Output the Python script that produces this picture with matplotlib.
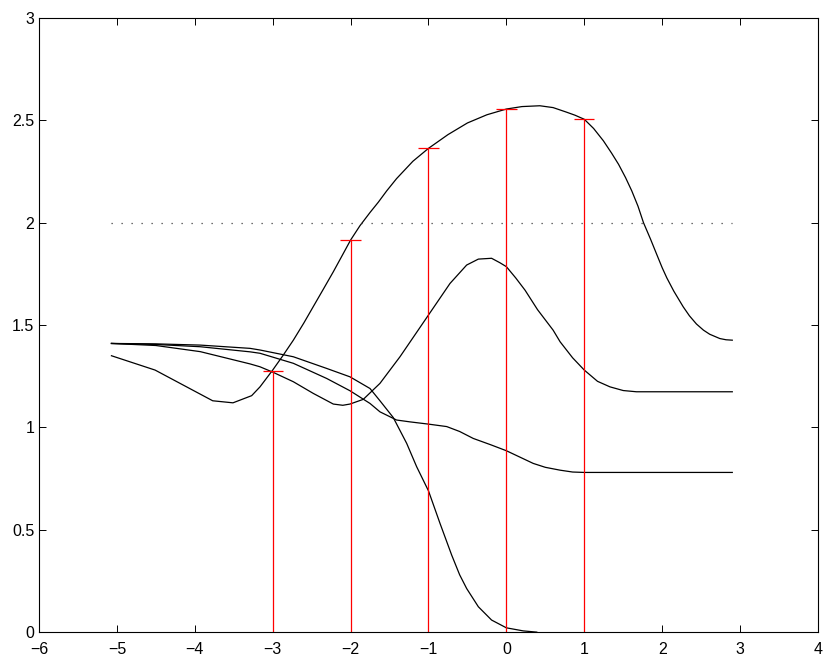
import matplotlib
matplotlib.use("Agg")
import matplotlib.pyplot as plt

plt.rcParams['font.family'] = ['Liberation Sans', 'DejaVu Sans']

# Curve A (large hump)
xa = [-5.07, -4.51, -3.77, -3.51, -3.27, -3.163, -3.0, -2.87, -2.735, -2.6, -2.479, -2.35,
      -2.222, -2.1, -2.0, -1.88, -1.75, -1.644, -1.537, -1.41, -1.2, -1.0, -0.75, -0.5, -0.25,
      0.0, 0.2, 0.43, 0.6, 0.77, 0.88, 1.0, 1.12, 1.245, 1.35, 1.44, 1.53, 1.61, 1.69, 1.76,
      1.85, 1.93, 2.0, 2.06, 2.15, 2.27, 2.35, 2.44, 2.53, 2.61, 2.74, 2.82, 2.9]
ya = [1.35, 1.28, 1.13, 1.12, 1.155, 1.198, 1.28, 1.35, 1.426, 1.51, 1.59, 1.675,
      1.76, 1.845, 1.915, 1.985, 2.05, 2.10, 2.155, 2.215, 2.30, 2.363, 2.43, 2.487, 2.527,
      2.555, 2.567, 2.571, 2.562, 2.54, 2.525, 2.505, 2.46, 2.40, 2.34, 2.285, 2.22, 2.155,
      2.08, 2.0, 1.92, 1.845, 1.78, 1.73, 1.665, 1.589, 1.545, 1.505, 1.475, 1.455, 1.434,
      1.428, 1.426]

# Curve B (peak near -0.2)
xb = [-5.07, -4.5, -3.93, -3.29, -3.163, -3.0, -2.735, -2.479, -2.222, -2.1, -2.008, -1.837,
      -1.623, -1.366, -1.0, -0.724, -0.51, -0.36, -0.19, -0.082, 0.0, 0.12, 0.24, 0.4, 0.6,
      0.69, 0.85, 1.0, 1.17, 1.33, 1.5, 1.67, 2.0, 2.5, 2.9]
yb = [1.41, 1.40, 1.37, 1.31, 1.296, 1.27, 1.223, 1.166, 1.114, 1.108, 1.114, 1.137,
      1.215, 1.345, 1.549, 1.703, 1.793, 1.822, 1.826, 1.804, 1.785, 1.73, 1.67, 1.575, 1.475,
      1.418, 1.34, 1.28, 1.225, 1.198, 1.18, 1.174, 1.174, 1.174, 1.174]

# Curve C (settles near 0.78)
xc = [-5.07, -4.5, -3.93, -3.29, -3.163, -2.735, -2.307, -2.008, -1.751, -1.623, -1.452,
      -1.41, -1.238, -1.0, -0.766, -0.6, -0.425, -0.2, 0.0, 0.345, 0.5, 0.69, 0.85, 1.0,
      1.5, 2.0, 2.5, 2.9]
yc = [1.41, 1.405, 1.394, 1.369, 1.362, 1.313, 1.239, 1.179, 1.117, 1.076, 1.044,
      1.036, 1.027, 1.016, 1.004, 0.98, 0.946, 0.915, 0.886, 0.824, 0.805, 0.791, 0.782, 0.78,
      0.78, 0.78, 0.78, 0.78]

# Curve D (drops to 0)
xd = [-5.07, -4.5, -3.93, -3.29, -3.163, -2.735, -2.307, -2.008, -1.751, -1.623, -1.452,
      -1.28, -1.152, -1.0, -0.852, -0.702, -0.6, -0.51, -0.36, -0.19, 0.0, 0.217, 0.39]
yd = [1.41, 1.408, 1.402, 1.386, 1.378, 1.345, 1.288, 1.247, 1.19, 1.13, 1.048,
      0.922, 0.808, 0.69, 0.531, 0.376, 0.28, 0.213, 0.124, 0.059, 0.021, 0.006, 0.0]

# Stems
stem_x = [-3, -2, -1, 0, 1]
stem_y = [1.275, 1.915, 2.363, 2.555, 2.505]

# Reference level
ref_level = 2.0
ref_x = [-5.07, 2.9]

fig = plt.figure(figsize=(8.3, 6.64), dpi=100)
ax = fig.add_axes([0.047, 0.048, 0.9385, 0.925])

for xs, ys in [(xa, ya), (xb, yb), (xc, yc), (xd, yd)]:
    ax.plot(xs, ys, color='black', lw=0.9, solid_joinstyle='round')

ax.plot(ref_x, [ref_level, ref_level], color='0.25', lw=0.9, linestyle=(0, (1, 7)))

ax.vlines(stem_x, 0, stem_y, colors='red', lw=0.9)
cap = 0.13
ax.hlines(stem_y, [s - cap for s in stem_x], [s + cap for s in stem_x], colors='red', lw=0.9)

ax.set_xlim(-6, 4)
ax.set_ylim(0, 3)
ax.set_xticks(range(-6, 5))
ax.set_yticks([0, 0.5, 1, 1.5, 2, 2.5, 3])
ax.set_yticklabels(['0', '0.5', '1', '1.5', '2', '2.5', '3'])
ax.tick_params(direction='in', length=5, width=0.7, top=True, right=True, labelsize=11.5)
ax.tick_params(axis='x', pad=7)
for sp in ax.spines.values():
    sp.set_linewidth(0.8)

fig.savefig('out.png', dpi=100)
